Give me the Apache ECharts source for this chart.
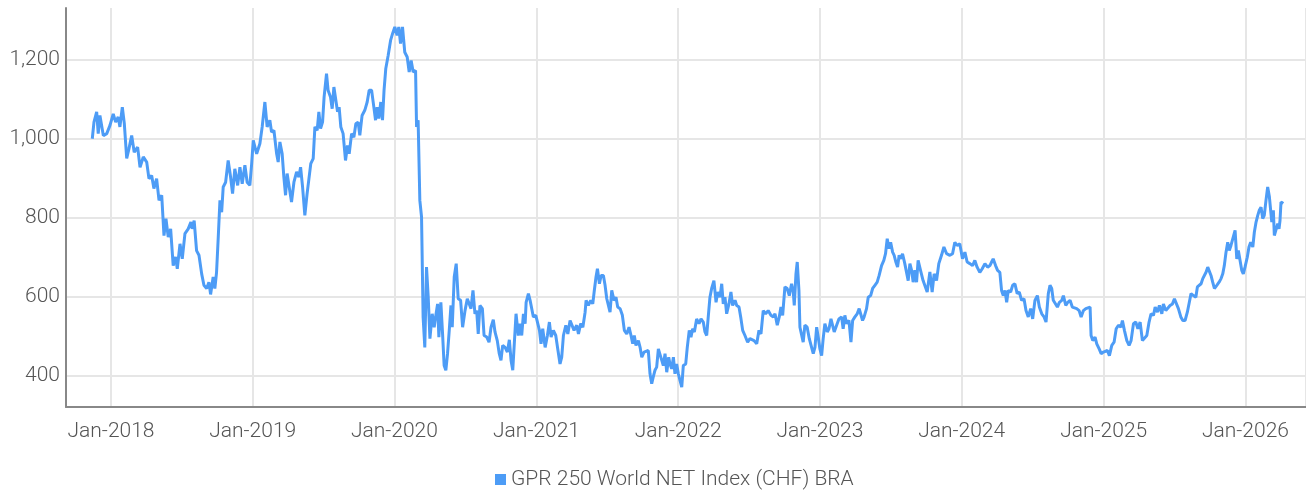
<!DOCTYPE html>
<html>
<head>
<meta charset="utf-8">
<script src="https://cdn.jsdelivr.net/npm/echarts@6/dist/echarts.min.js"></script>
<style>
html,body{margin:0;padding:0;background:#fff;}
#chart{width:1306px;height:493px;}
</style>
</head>
<body>
<div id="chart"></div>
<script>
// Series name
const seriesName = 'GPR 250 World NET Index (CHF) BRA';
// Dates as decimal years
const dates = [
2017.868,2017.880,2017.899,2017.910,2017.922,2017.946,2017.970,2017.993,2018.016,2018.033,
2018.051,2018.063,2018.080,2018.094,2018.111,2018.127,2018.146,2018.164,2018.188,2018.205,
2018.228,2018.252,2018.268,2018.287,2018.303,2018.322,2018.339,2018.358,2018.374,2018.388,
2018.404,2018.421,2018.439,2018.456,2018.468,2018.487,2018.503,2018.522,2018.545,2018.564,
2018.573,2018.587,2018.604,2018.621,2018.640,2018.656,2018.675,2018.691,2018.703,2018.721,
2018.733,2018.745,2018.757,2018.769,2018.781,2018.792,2018.809,2018.827,2018.844,2018.858,
2018.874,2018.894,2018.910,2018.926,2018.945,2018.961,2018.980,2018.992,
2019.004,2019.028,2019.051,2019.067,2019.086,2019.102,2019.121,2019.133,2019.150,2019.169,
2019.180,2019.192,2019.208,2019.220,2019.232,2019.243,2019.257,2019.274,2019.291,2019.310,
2019.326,2019.338,2019.352,2019.368,2019.384,2019.398,2019.410,2019.427,2019.439,2019.455,
2019.467,2019.479,2019.493,2019.504,2019.521,2019.532,2019.549,2019.561,2019.573,2019.587,
2019.599,2019.610,2019.622,2019.638,2019.655,2019.669,2019.681,2019.698,2019.714,2019.728,
2019.744,2019.756,2019.772,2019.791,2019.808,2019.822,2019.839,2019.855,2019.867,2019.878,
2019.890,2019.904,2019.916,2019.927,2019.939,2019.956,2019.973,2019.987,
2020.003,2020.019,2020.031,2020.043,2020.057,2020.073,2020.090,2020.104,2020.118,2020.132,
2020.149,2020.156,2020.167,2020.179,2020.191,2020.202,2020.214,2020.226,2020.238,2020.250,
2020.266,2020.280,2020.290,2020.304,2020.313,2020.327,2020.339,2020.350,2020.362,2020.374,
2020.386,2020.398,2020.407,2020.421,2020.435,2020.449,2020.466,2020.480,2020.497,2020.513,
2020.527,2020.539,2020.553,2020.567,2020.579,2020.590,2020.602,2020.619,2020.631,2020.650,
2020.666,2020.680,2020.696,2020.708,2020.724,2020.738,2020.750,2020.762,2020.779,2020.795,
2020.809,2020.821,2020.833,2020.844,2020.856,2020.872,2020.884,2020.896,2020.908,2020.920,
2020.927,2020.943,2020.955,2020.967,2020.978,2020.995,
2021.009,2021.021,2021.032,2021.044,2021.061,2021.077,2021.091,2021.103,2021.119,2021.136,
2021.150,2021.166,2021.178,2021.190,2021.207,2021.221,2021.237,2021.265,2021.284,2021.296,
2021.312,2021.327,2021.343,2021.350,2021.366,2021.383,2021.397,2021.408,2021.420,2021.430,
2021.444,2021.456,2021.472,2021.484,2021.496,2021.507,2021.519,2021.531,2021.547,2021.561,
2021.573,2021.590,2021.606,2021.620,2021.637,2021.653,2021.667,2021.679,2021.690,2021.702,
2021.719,2021.731,2021.743,2021.759,2021.773,2021.789,2021.801,2021.813,2021.824,2021.836,
2021.848,2021.860,2021.872,2021.884,2021.895,2021.907,2021.919,2021.933,2021.942,2021.954,
2021.966,2021.977,2021.989,
2022.001,2022.013,2022.025,2022.036,2022.053,2022.064,2022.078,2022.090,2022.102,2022.114,
2022.130,2022.147,2022.161,2022.177,2022.189,2022.201,2022.212,2022.224,2022.236,2022.252,
2022.267,2022.279,2022.295,2022.307,2022.318,2022.330,2022.342,2022.358,2022.372,2022.384,
2022.401,2022.413,2022.429,2022.441,2022.455,2022.471,2022.490,2022.506,2022.518,2022.535,
2022.554,2022.570,2022.584,2022.600,2022.617,2022.635,2022.654,2022.671,2022.683,2022.699,
2022.713,2022.725,2022.737,2022.753,2022.769,2022.784,2022.800,2022.812,2022.819,2022.831,
2022.840,2022.852,2022.859,2022.871,2022.882,2022.894,2022.910,2022.925,2022.937,2022.953,
2022.965,2022.977,2022.988,
2023.000,2023.012,2023.023,2023.035,2023.052,2023.064,2023.078,2023.090,2023.101,2023.118,
2023.134,2023.153,2023.164,2023.176,2023.188,2023.205,2023.219,2023.231,2023.247,2023.263,
2023.277,2023.289,2023.301,2023.312,2023.329,2023.341,2023.358,2023.372,2023.388,2023.404,
2023.418,2023.435,2023.451,2023.463,2023.475,2023.487,2023.499,2023.513,2023.524,2023.536,
2023.548,2023.559,2023.571,2023.583,2023.599,2023.611,2023.623,2023.635,2023.647,2023.658,
2023.670,2023.682,2023.693,2023.710,2023.728,2023.740,2023.757,2023.776,2023.792,2023.806,
2023.823,2023.839,2023.858,2023.875,2023.894,2023.917,2023.936,2023.952,2023.968,2023.987,
2024.006,2024.023,2024.039,2024.058,2024.077,2024.093,2024.109,2024.128,2024.145,2024.164,
2024.183,2024.199,2024.211,2024.222,2024.239,2024.253,2024.269,2024.281,2024.293,2024.305,
2024.317,2024.328,2024.345,2024.359,2024.375,2024.391,2024.406,2024.422,2024.439,2024.453,
2024.469,2024.486,2024.500,2024.516,2024.533,2024.547,2024.564,2024.580,2024.594,2024.610,
2024.622,2024.634,2024.645,2024.657,2024.674,2024.688,2024.705,2024.716,2024.733,2024.747,
2024.763,2024.779,2024.793,2024.810,2024.827,2024.841,2024.857,2024.874,2024.888,2024.904,
2024.911,2024.923,2024.939,2024.951,2024.968,2024.982,2024.998,
2025.010,2025.026,2025.040,2025.057,2025.073,2025.088,2025.104,2025.121,2025.132,2025.146,
2025.163,2025.179,2025.193,2025.210,2025.226,2025.241,2025.257,2025.273,2025.287,2025.304,
2025.320,2025.334,2025.351,2025.363,2025.379,2025.393,2025.410,2025.421,2025.438,2025.452,
2025.468,2025.485,2025.499,2025.511,2025.527,2025.544,2025.558,2025.574,2025.590,2025.604,
2025.616,2025.633,2025.650,2025.661,2025.675,2025.687,2025.699,2025.710,2025.722,2025.734,
2025.745,2025.757,2025.769,2025.781,2025.798,2025.814,2025.828,2025.840,2025.851,2025.863,
2025.875,2025.886,2025.898,2025.910,2025.927,2025.939,2025.950,2025.962,2025.974,2025.985,
2025.997,2026.013,2026.025,2026.037,2026.052,2026.063,2026.075,2026.087,2026.098,2026.110,
2026.122,2026.133,2026.145,2026.157,2026.169,2026.178,2026.186,2026.197,2026.204,2026.216,
2026.228,2026.237,2026.244,2026.251,2026.267
];
// Index values
const values = [
999,1041,1067,1012,1058,1007,1012,1033,1062,1041,
1054,1029,1079,1038,949,974,1007,965,978,927,
953,940,898,906,873,898,843,856,754,797,
750,771,678,700,670,733,695,759,771,788,
771,792,716,704,657,628,620,636,605,649,
620,661,750,843,813,877,889,944,902,860,
923,881,927,885,932,889,881,932,
995,961,987,1029,1092,1029,1046,1016,1020,961,
940,991,961,902,856,911,915,839,889,915,
902,927,877,805,860,856,936,949,1029,1020,
1067,1025,1041,1105,1164,1122,1105,1075,1130,1096,
1067,1079,1029,1012,944,982,961,1012,1003,1037,
1041,1008,1058,1071,1092,1122,1122,1079,1046,1079,
1050,1092,1046,1122,1176,1210,1248,1265,
1282,1261,1282,1240,1282,1218,1206,1168,1197,1168,
1172,1029,1046,843,801,548,471,674,598,493,
556,522,548,581,497,585,505,425,413,455,
514,577,522,649,683,594,590,522,564,594,
590,569,615,556,564,505,577,569,501,497,
484,522,541,510,488,455,438,476,471,459,
490,438,413,408,556,501,531,501,556,531,
585,607,590,594,548,552,
548,514,480,518,471,501,535,497,514,501,
467,429,446,501,527,505,539,514,527,505,
531,522,560,590,577,590,581,615,649,670,
632,653,653,628,594,590,560,615,590,598,
573,569,552,514,505,522,501,480,501,476,
488,471,446,459,455,463,404,379,396,413,
421,467,471,438,425,455,408,446,429,417,
446,404,429,
404,387,370,425,429,471,514,497,518,510,
543,531,543,535,510,501,548,598,620,640,
585,611,598,632,581,598,556,581,611,577,
590,577,573,548,514,501,484,493,497,488,
480,514,505,564,556,564,552,548,556,527,
548,573,552,624,620,602,632,611,577,657,
687,615,522,522,484,527,522,493,488,455,
471,522,497,
467,450,493,531,510,518,543,539,510,527,
543,548,518,552,531,539,484,539,548,556,
569,564,539,548,569,598,602,620,628,636,
653,678,691,708,746,721,737,712,704,687,
674,704,695,708,683,687,640,683,666,636,
666,636,691,666,640,640,611,662,611,657,
640,683,704,725,708,704,708,737,729,733,
695,712,687,683,678,691,674,661,670,683,
674,678,687,695,678,666,661,615,602,615,
585,615,611,628,632,607,611,590,594,564,
548,569,543,590,602,573,556,548,535,607,
628,620,590,594,573,585,590,602,577,585,
590,573,577,569,564,548,564,569,573,573,
501,488,497,480,467,455,459,
455,463,450,476,484,518,527,522,539,514,
488,476,488,531,535,518,535,488,493,501,
535,556,552,573,560,577,556,581,564,560,
577,581,594,598,569,548,539,539,560,585,
607,602,598,624,620,632,645,640,661,674,
670,653,636,620,628,636,645,657,678,712,
737,716,729,733,767,695,716,716,666,657,
674,699,725,737,725,763,788,805,818,826,
797,805,843,877,852,818,788,818,754,750,
784,771,792,839,835
];
// Axis range (decimal years) and y-axis range
const xRange = [2017.6826, 2026.4274];
const yRange = [320, 1330];
const yTicks = [400, 600, 800, 1000, 1200];

function yearToTs(t) {
  const y = Math.floor(t);
  const a = Date.UTC(y, 0, 1), b = Date.UTC(y + 1, 0, 1);
  return a + (t - y) * (b - a);
}
const seriesData = dates.map((d, i) => [yearToTs(d), values[i]]);

const FONT = "Roboto";
const chart = echarts.init(document.getElementById('chart'), null, {renderer: 'canvas'});
chart.setOption({
  animation: false,
  backgroundColor: '#ffffff',
  grid: {left: 66, right: 0, top: 8, bottom: 86, containLabel: false},
  legend: {
    show: true,
    left: 490,
    top: 464,
    itemWidth: 11,
    itemHeight: 11,
    itemGap: 10,
    textStyle: {fontFamily: FONT, fontSize: 21, color: '#555', fontWeight: 300},
    data: [{name: seriesName, icon: 'rect', itemStyle: {color: '#4d9cf6'}}]
  },
  xAxis: {
    type: 'time',
    min: yearToTs(xRange[0]),
    max: yearToTs(xRange[1]),
    minInterval: 365 * 86400000,
    maxInterval: 366 * 86400000,
    axisLine: {show: true, lineStyle: {color: '#888', width: 2}},
    axisTick: {show: false},
    splitLine: {show: true, lineStyle: {color: '#e6e6e6', width: 2}},
    axisLabel: {
      margin: 14,
      fontFamily: FONT, fontSize: 21, color: '#555', fontWeight: 300,
      hideOverlap: false,
      formatter: function (v) {
        const d = new Date(v);
        const m = ['Jan','Feb','Mar','Apr','May','Jun','Jul','Aug','Sep','Oct','Nov','Dec'][d.getUTCMonth()];
        return m + '-' + d.getUTCFullYear();
      }
    }
  },
  yAxis: {
    type: 'value',
    min: yRange[0],
    max: yRange[1],
    splitNumber: 5,
    axisLine: {show: true, lineStyle: {color: '#888', width: 2}},
    axisTick: {show: false},
    splitLine: {show: true, showMinLine: false, showMaxLine: false, lineStyle: {color: '#e6e6e6', width: 2}},
    axisLabel: {
      margin: 6,
      showMinLabel: false, showMaxLabel: false,
      fontFamily: FONT, fontSize: 21, color: '#555', fontWeight: 300,
      formatter: function (v) { return yTicks.indexOf(v) >= 0 ? v.toLocaleString('en-US') : ''; }
    }
  },
  series: [{
    name: seriesName,
    type: 'line',
    data: seriesData,
    showSymbol: false,
    symbol: 'none',
    lineStyle: {color: '#4d9cf6', width: 3},
    itemStyle: {color: '#4d9cf6'},
    z: 3
  }]
});
</script>
</body>
</html>
